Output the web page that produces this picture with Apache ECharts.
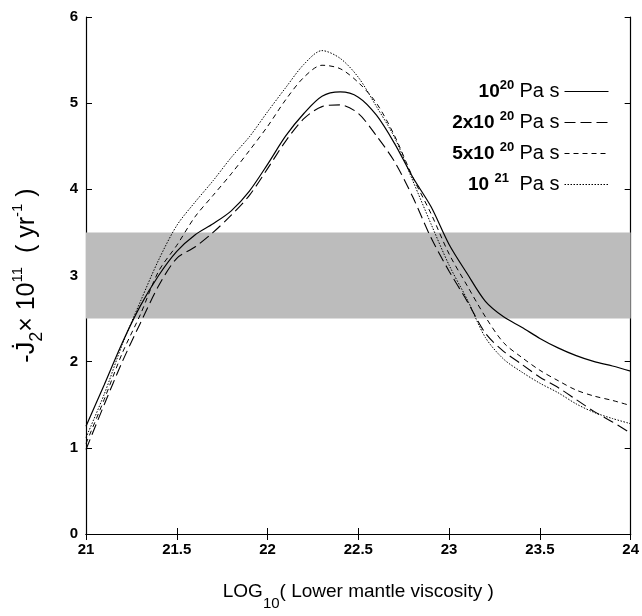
<!DOCTYPE html>
<html>
<head>
<meta charset="utf-8">
<script src="https://cdn.jsdelivr.net/npm/echarts@6/dist/echarts.min.js"></script>
<style>html,body{margin:0;padding:0;background:#fff;}#c{width:642px;height:616px;}</style>
</head>
<body>
<div id="c"></div>
<script>
// log10 lower mantle viscosity
var xs = [21.0,21.1,21.2,21.3,21.4,21.5,21.6,21.7,21.8,21.9,22.0,22.1,22.2,22.3,22.4,22.5,22.6,22.7,22.8,22.9,23.0,23.1,23.2,23.3,23.4,23.5,23.6,23.7,23.8,23.9,24.0];
var visc1e20 = [1.25,1.73,2.22,2.65,3.00,3.28,3.47,3.60,3.75,3.98,4.29,4.62,4.88,5.08,5.13,5.07,4.86,4.53,4.14,3.80,3.36,3.02,2.70,2.52,2.40,2.27,2.16,2.07,2.00,1.95,1.89];
var visc2e20 = [0.98,1.50,2.00,2.45,2.88,3.20,3.33,3.50,3.70,3.93,4.24,4.56,4.82,4.96,4.98,4.88,4.62,4.32,3.91,3.44,3.05,2.70,2.33,2.12,1.97,1.82,1.70,1.56,1.42,1.30,1.17];
var visc5e20 = [1.05,1.56,2.10,2.55,3.05,3.35,3.68,3.93,4.18,4.45,4.73,5.04,5.30,5.44,5.40,5.24,5.00,4.62,4.14,3.72,3.25,2.88,2.52,2.22,2.05,1.90,1.78,1.67,1.60,1.55,1.49];
var visc1e21 = [1.12,1.62,2.20,2.70,3.18,3.58,3.85,4.10,4.37,4.61,4.90,5.18,5.45,5.61,5.52,5.30,4.96,4.60,4.10,3.60,3.12,2.72,2.28,2.03,1.88,1.75,1.64,1.51,1.41,1.34,1.28];
var bandRange = [2.5, 3.5];
var seriesNames = ['10^20 Pa s', '2x10^20 Pa s', '5x10^20 Pa s', '10^21 Pa s'];
var legendRich = {
  '10^20 Pa s': '{b|10}{sup|20} {n|Pa s}',
  '2x10^20 Pa s': '{b|2x10 }{sup|20} {n|Pa s}',
  '5x10^20 Pa s': '{b|5x10 }{sup|20} {n|Pa s}',
  '10^21 Pa s': '{b|10 }{sup|21}  {n|Pa s}'
};

function pairs(ys){ return xs.map(function(x,i){ return [x, ys[i]]; }); }

var FONT = 'Arial, "Liberation Sans", Helvetica, sans-serif';
var chart = echarts.init(document.getElementById('c'), null, {renderer:'canvas'});
var lineBase = {type:'line', smooth:0.3, showSymbol:false, symbol:'none', z:3, animation:false};
function mk(name, ys, lt, w){
  return Object.assign({}, lineBase, {name:name, data:pairs(ys), xAxisIndex:0, yAxisIndex:0,
    lineStyle:{color:'#000', width:w, type:lt}, itemStyle:{color:'#000'}});
}
var option = {
  backgroundColor:'#fff',
  animation:false,
  grid:{left:86, right:8, top:17, bottom:79, containLabel:false},
  legend:{
    show:true,
    data:seriesNames, orient:'vertical', align:'right', right:28, top:74,
    itemWidth:44, itemHeight:14, itemGap:8.5,
    itemStyle:{color:'rgba(0,0,0,0)', borderWidth:0, opacity:0},
    lineStyle:{width:1},
    formatter:function(n){ return legendRich[n] || n; },
    textStyle:{fontFamily:FONT, color:'#000', fontSize:19, rich:{
      b:{fontSize:19, fontWeight:'bold', fontFamily:FONT, color:'#000'},
      sup:{fontSize:13, fontWeight:'bold', fontFamily:FONT, color:'#000', padding:[0,0,12,0]},
      n:{fontSize:20, fontFamily:FONT, color:'#000'}
    }}
  },
  xAxis:[{
    type:'value', min:21, max:24, interval:0.5, position:'bottom',
    name:'{t|LOG}{s|10}{t|( Lower mantle viscosity )}', nameLocation:'middle', nameGap:38,
    nameTextStyle:{rich:{t:{fontSize:19, fontFamily:FONT, color:'#000'}, s:{fontSize:15, fontFamily:FONT, color:'#000', padding:[24,0,0,0]}}},
    axisLine:{lineStyle:{color:'#000', width:1.2}},
    axisTick:{inside:true, length:6, lineStyle:{color:'#000'}},
    axisLabel:{fontSize:15, fontWeight:'bold', fontFamily:FONT, color:'#000', margin:8,
      formatter:function(v){ return String(v); }},
    splitLine:{show:false}
  },{
    type:'value', min:21, max:24, interval:0.5, position:'top',
    axisLine:{show:true, lineStyle:{color:'#000', width:1.2}},
    axisTick:{inside:true, length:6, lineStyle:{color:'#000'}},
    axisLabel:{show:false}, splitLine:{show:false}
  }],
  yAxis:[{
    type:'value', min:0, max:6, interval:1, position:'left',
    name:'{t|-J\u0307}{s|2}{t|\u00d7 10}{p|11}{t|  ( yr}{p|-1}{t| )}', nameLocation:'middle', nameGap:40, nameRotate:90,
    nameTextStyle:{rich:{
      t:{fontSize:25, fontFamily:FONT, color:'#000'},
      s:{fontSize:18, fontFamily:FONT, color:'#000', padding:[20,0,0,0]},
      p:{fontSize:15, fontFamily:FONT, color:'#000', padding:[0,0,18,0]}
    }},
    axisLine:{lineStyle:{color:'#000', width:1.2}},
    axisTick:{inside:true, length:6, lineStyle:{color:'#000'}},
    axisLabel:{fontSize:15, fontWeight:'bold', fontFamily:FONT, color:'#000', margin:8},
    splitLine:{show:false}
  },{
    type:'value', min:0, max:6, interval:1, position:'right',
    axisLine:{show:true, lineStyle:{color:'#000', width:1.2}},
    axisTick:{inside:true, length:6, lineStyle:{color:'#000'}},
    axisLabel:{show:false}, splitLine:{show:false}
  }],
  series:[
    {type:'line', name:'band', data:[[21,null]], xAxisIndex:0, yAxisIndex:0, z:1, silent:true, symbol:'none',
      markArea:{silent:true, itemStyle:{color:'#bcbcbc'}, data:[[{yAxis:bandRange[0]},{yAxis:bandRange[1]}]]}},
    mk(seriesNames[0], visc1e20, 'solid', 1.2),
    mk(seriesNames[1], visc2e20, [11,5], 1.1),
    mk(seriesNames[2], visc5e20, [5,4], 1),
    mk(seriesNames[3], visc1e21, [1.5,1.5], 1)
  ]
};
chart.setOption(option);
</script>
</body>
</html>
